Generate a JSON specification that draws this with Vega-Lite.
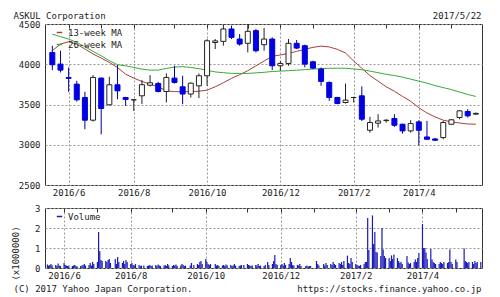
{
"$schema": "https://vega.github.io/schema/vega-lite/v6.json",
"background": "white",
"padding": {"left": 10, "top": 10, "right": 18, "bottom": 5},
"spacing": 5,
"config": {
  "view": {"stroke": "#333333", "strokeWidth": 1},
  "font": "DejaVu Sans Mono",
  "axis": {"labelFont": "DejaVu Sans Mono", "labelFontSize": 9, "labelColor": "#222222", "titleFont": "DejaVu Sans Mono", "titleFontSize": 9, "titleFontWeight": "normal", "titleColor": "#222222", "gridColor": "#999999", "gridDash": [2, 2], "gridOpacity": 1, "tickColor": "#333333", "domain": false},
  "legend": {"labelFont": "DejaVu Sans Mono", "labelFontSize": 9, "labelColor": "#222222"}
},
"datasets": {
  "candles": [
    {"d":"2016-05-23","o":4147,"h":4230,"l":3927,"c":3994,"ma13":4170,"ma26":4375},
    {"d":"2016-05-30","o":4002,"h":4168,"l":3898,"c":3927,"ma13":4250,"ma26":4342},
    {"d":"2016-06-06","o":3835,"h":3960,"l":3658,"c":3825,"ma13":4280,"ma26":4313},
    {"d":"2016-06-13","o":3753,"h":3795,"l":3537,"c":3558,"ma13":4250,"ma26":4272},
    {"d":"2016-06-20","o":3587,"h":3658,"l":3193,"c":3305,"ma13":4190,"ma26":4218},
    {"d":"2016-06-27","o":3305,"h":3865,"l":3288,"c":3836,"ma13":4127,"ma26":4160},
    {"d":"2016-07-04","o":3828,"h":3835,"l":3130,"c":3450,"ma13":4077,"ma26":4106},
    {"d":"2016-07-11","o":3496,"h":3844,"l":3490,"c":3745,"ma13":4023,"ma26":4044},
    {"d":"2016-07-18","o":3745,"h":3990,"l":3566,"c":3670,"ma13":3960,"ma26":3994},
    {"d":"2016-07-25","o":3587,"h":3595,"l":3483,"c":3563,"ma13":3877,"ma26":3981},
    {"d":"2016-08-01","o":3558,"h":3562,"l":3420,"c":3558,"ma13":3828,"ma26":3960},
    {"d":"2016-08-08","o":3608,"h":3803,"l":3505,"c":3746,"ma13":3786,"ma26":3940},
    {"d":"2016-08-15","o":3740,"h":3865,"l":3725,"c":3770,"ma13":3753,"ma26":3927},
    {"d":"2016-08-22","o":3761,"h":3782,"l":3650,"c":3662,"ma13":3720,"ma26":3927},
    {"d":"2016-08-29","o":3662,"h":3886,"l":3525,"c":3836,"ma13":3670,"ma26":3948},
    {"d":"2016-09-05","o":3828,"h":3981,"l":3760,"c":3774,"ma13":3660,"ma26":3965},
    {"d":"2016-09-12","o":3720,"h":3857,"l":3504,"c":3630,"ma13":3660,"ma26":3970},
    {"d":"2016-09-19","o":3630,"h":3775,"l":3587,"c":3765,"ma13":3660,"ma26":3960},
    {"d":"2016-09-26","o":3732,"h":3886,"l":3579,"c":3857,"ma13":3665,"ma26":3945},
    {"d":"2016-10-03","o":3857,"h":4313,"l":3732,"c":4292,"ma13":3678,"ma26":3925},
    {"d":"2016-10-10","o":4270,"h":4313,"l":4189,"c":4290,"ma13":3720,"ma26":3905},
    {"d":"2016-10-17","o":4284,"h":4492,"l":4230,"c":4438,"ma13":3770,"ma26":3895},
    {"d":"2016-10-24","o":4438,"h":4480,"l":4313,"c":4334,"ma13":3825,"ma26":3887},
    {"d":"2016-10-31","o":4313,"h":4375,"l":4230,"c":4251,"ma13":3870,"ma26":3886},
    {"d":"2016-11-07","o":4260,"h":4500,"l":4147,"c":4409,"ma13":3920,"ma26":3886},
    {"d":"2016-11-14","o":4417,"h":4438,"l":4147,"c":4168,"ma13":3980,"ma26":3893},
    {"d":"2016-11-21","o":4243,"h":4450,"l":4168,"c":4313,"ma13":4040,"ma26":3900},
    {"d":"2016-11-28","o":4313,"h":4334,"l":3927,"c":3981,"ma13":4100,"ma26":3910},
    {"d":"2016-12-05","o":3981,"h":4040,"l":3919,"c":4010,"ma13":4115,"ma26":3915},
    {"d":"2016-12-12","o":4010,"h":4313,"l":3981,"c":4260,"ma13":4135,"ma26":3920},
    {"d":"2016-12-19","o":4260,"h":4301,"l":4189,"c":4201,"ma13":4160,"ma26":3926},
    {"d":"2016-12-26","o":4230,"h":4243,"l":3961,"c":4002,"ma13":4185,"ma26":3933},
    {"d":"2017-01-02","o":4031,"h":4044,"l":3940,"c":3952,"ma13":4210,"ma26":3940},
    {"d":"2017-01-09","o":3940,"h":3960,"l":3732,"c":3787,"ma13":4225,"ma26":3946},
    {"d":"2017-01-16","o":3774,"h":3786,"l":3545,"c":3587,"ma13":4215,"ma26":3950},
    {"d":"2017-01-23","o":3587,"h":3595,"l":3504,"c":3512,"ma13":4185,"ma26":3951},
    {"d":"2017-01-30","o":3525,"h":3761,"l":3512,"c":3554,"ma13":4140,"ma26":3950},
    {"d":"2017-02-06","o":3587,"h":3595,"l":3525,"c":3587,"ma13":4040,"ma26":3942},
    {"d":"2017-02-13","o":3608,"h":3724,"l":3296,"c":3317,"ma13":3950,"ma26":3932},
    {"d":"2017-02-20","o":3180,"h":3346,"l":3150,"c":3276,"ma13":3860,"ma26":3915},
    {"d":"2017-02-27","o":3268,"h":3380,"l":3213,"c":3296,"ma13":3790,"ma26":3895},
    {"d":"2017-03-06","o":3300,"h":3317,"l":3276,"c":3305,"ma13":3720,"ma26":3875},
    {"d":"2017-03-13","o":3326,"h":3380,"l":3222,"c":3242,"ma13":3665,"ma26":3860},
    {"d":"2017-03-20","o":3255,"h":3262,"l":3139,"c":3172,"ma13":3600,"ma26":3840},
    {"d":"2017-03-27","o":3172,"h":3305,"l":3150,"c":3263,"ma13":3540,"ma26":3815},
    {"d":"2017-04-03","o":3284,"h":3305,"l":2994,"c":3180,"ma13":3460,"ma26":3790},
    {"d":"2017-04-10","o":3097,"h":3296,"l":3060,"c":3068,"ma13":3395,"ma26":3765},
    {"d":"2017-04-17","o":3072,"h":3085,"l":3048,"c":3056,"ma13":3345,"ma26":3735},
    {"d":"2017-04-24","o":3089,"h":3296,"l":3068,"c":3276,"ma13":3305,"ma26":3710},
    {"d":"2017-05-01","o":3255,"h":3317,"l":3250,"c":3310,"ma13":3285,"ma26":3685},
    {"d":"2017-05-08","o":3338,"h":3430,"l":3317,"c":3421,"ma13":3270,"ma26":3655},
    {"d":"2017-05-15","o":3413,"h":3443,"l":3338,"c":3359,"ma13":3258,"ma26":3625},
    {"d":"2017-05-22","o":3380,"h":3400,"l":3370,"c":3390,"ma13":3255,"ma26":3600}
  ],
  "volume": [
    {"d":"2016-05-23","v":0.18},{"d":"2016-05-24","v":0.12},{"d":"2016-05-25","v":0.15},{"d":"2016-05-26","v":0.2},{"d":"2016-05-27","v":0.12},
    {"d":"2016-05-30","v":0.15},{"d":"2016-05-31","v":0.1},{"d":"2016-06-01","v":0.22},{"d":"2016-06-02","v":0.12},{"d":"2016-06-03","v":0.1},
    {"d":"2016-06-06","v":0.25},{"d":"2016-06-07","v":0.15},{"d":"2016-06-08","v":0.12},{"d":"2016-06-09","v":0.1},{"d":"2016-06-10","v":0.12},
    {"d":"2016-06-13","v":0.1},{"d":"2016-06-14","v":0.12},{"d":"2016-06-15","v":0.15},{"d":"2016-06-16","v":0.1},{"d":"2016-06-17","v":0.08},
    {"d":"2016-06-20","v":0.1},{"d":"2016-06-21","v":0.12},{"d":"2016-06-22","v":0.15},{"d":"2016-06-23","v":0.2},{"d":"2016-06-24","v":0.12},
    {"d":"2016-06-27","v":0.15},{"d":"2016-06-28","v":0.25},{"d":"2016-06-29","v":0.12},{"d":"2016-06-30","v":0.3},{"d":"2016-07-01","v":0.2},
    {"d":"2016-07-04","v":0.3},{"d":"2016-07-05","v":1.8},{"d":"2016-07-06","v":0.85},{"d":"2016-07-07","v":0.4},{"d":"2016-07-08","v":0.35},
    {"d":"2016-07-11","v":0.35},{"d":"2016-07-12","v":0.3},{"d":"2016-07-13","v":0.4},{"d":"2016-07-14","v":0.45},{"d":"2016-07-15","v":0.25},
    {"d":"2016-07-19","v":0.45},{"d":"2016-07-20","v":0.2},{"d":"2016-07-21","v":0.55},{"d":"2016-07-22","v":0.3},
    {"d":"2016-07-25","v":0.25},{"d":"2016-07-26","v":0.35},{"d":"2016-07-27","v":0.2},{"d":"2016-07-28","v":0.4},{"d":"2016-07-29","v":0.3},
    {"d":"2016-08-01","v":0.2},{"d":"2016-08-02","v":0.25},{"d":"2016-08-03","v":0.15},{"d":"2016-08-04","v":0.12},{"d":"2016-08-05","v":0.2},
    {"d":"2016-08-08","v":0.15},{"d":"2016-08-09","v":0.1},{"d":"2016-08-10","v":0.12},{"d":"2016-08-12","v":0.12},
    {"d":"2016-08-15","v":0.1},{"d":"2016-08-16","v":0.12},{"d":"2016-08-17","v":0.15},{"d":"2016-08-18","v":0.1},{"d":"2016-08-19","v":0.12},
    {"d":"2016-08-22","v":0.15},{"d":"2016-08-23","v":0.1},{"d":"2016-08-24","v":0.18},{"d":"2016-08-25","v":0.12},{"d":"2016-08-26","v":0.1},
    {"d":"2016-08-29","v":0.12},{"d":"2016-08-30","v":0.15},{"d":"2016-08-31","v":0.1},{"d":"2016-09-01","v":0.2},{"d":"2016-09-02","v":0.12},
    {"d":"2016-09-05","v":0.1},{"d":"2016-09-06","v":0.15},{"d":"2016-09-07","v":0.12},{"d":"2016-09-08","v":0.18},{"d":"2016-09-09","v":0.1},
    {"d":"2016-09-12","v":0.12},{"d":"2016-09-13","v":0.2},{"d":"2016-09-14","v":0.15},{"d":"2016-09-15","v":0.1},{"d":"2016-09-16","v":0.12},
    {"d":"2016-09-20","v":0.12},{"d":"2016-09-21","v":0.25},{"d":"2016-09-23","v":0.15},
    {"d":"2016-09-26","v":0.2},{"d":"2016-09-27","v":0.15},{"d":"2016-09-28","v":0.3},{"d":"2016-09-29","v":0.35},{"d":"2016-09-30","v":0.2},
    {"d":"2016-10-03","v":0.45},{"d":"2016-10-04","v":0.3},{"d":"2016-10-05","v":0.2},{"d":"2016-10-06","v":0.15},{"d":"2016-10-07","v":0.2},
    {"d":"2016-10-11","v":0.2},{"d":"2016-10-12","v":0.12},{"d":"2016-10-13","v":0.15},{"d":"2016-10-14","v":0.1},
    {"d":"2016-10-17","v":0.12},{"d":"2016-10-18","v":0.15},{"d":"2016-10-19","v":0.1},{"d":"2016-10-20","v":0.18},{"d":"2016-10-21","v":0.12},
    {"d":"2016-10-24","v":0.15},{"d":"2016-10-25","v":0.1},{"d":"2016-10-26","v":0.12},{"d":"2016-10-27","v":0.2},{"d":"2016-10-28","v":0.12},
    {"d":"2016-10-31","v":0.1},{"d":"2016-11-01","v":0.12},{"d":"2016-11-02","v":0.15},{"d":"2016-11-04","v":0.15},
    {"d":"2016-11-07","v":0.2},{"d":"2016-11-08","v":0.15},{"d":"2016-11-09","v":0.12},{"d":"2016-11-10","v":0.1},{"d":"2016-11-11","v":0.12},
    {"d":"2016-11-14","v":0.15},{"d":"2016-11-15","v":0.12},{"d":"2016-11-16","v":0.2},{"d":"2016-11-17","v":0.1},{"d":"2016-11-18","v":0.12},
    {"d":"2016-11-21","v":0.1},{"d":"2016-11-22","v":0.15},{"d":"2016-11-24","v":0.3},{"d":"2016-11-25","v":0.15},
    {"d":"2016-11-28","v":0.2},{"d":"2016-11-29","v":0.35},{"d":"2016-11-30","v":0.65},{"d":"2016-12-01","v":0.2},{"d":"2016-12-02","v":0.15},
    {"d":"2016-12-05","v":0.15},{"d":"2016-12-06","v":0.2},{"d":"2016-12-07","v":0.12},{"d":"2016-12-08","v":0.25},{"d":"2016-12-09","v":0.15},
    {"d":"2016-12-12","v":0.2},{"d":"2016-12-13","v":0.5},{"d":"2016-12-14","v":0.3},{"d":"2016-12-15","v":0.15},{"d":"2016-12-16","v":0.12},
    {"d":"2016-12-19","v":0.15},{"d":"2016-12-20","v":0.12},{"d":"2016-12-21","v":0.2},{"d":"2016-12-22","v":0.1},
    {"d":"2016-12-26","v":0.1},{"d":"2016-12-27","v":0.12},{"d":"2016-12-28","v":0.08},{"d":"2016-12-29","v":0.1},{"d":"2016-12-30","v":0.1},
    {"d":"2017-01-04","v":0.35},{"d":"2017-01-05","v":0.2},{"d":"2017-01-06","v":0.12},
    {"d":"2017-01-10","v":0.2},{"d":"2017-01-11","v":0.12},{"d":"2017-01-12","v":0.25},{"d":"2017-01-13","v":0.15},
    {"d":"2017-01-16","v":0.2},{"d":"2017-01-17","v":0.15},{"d":"2017-01-18","v":0.3},{"d":"2017-01-19","v":0.2},{"d":"2017-01-20","v":0.15},
    {"d":"2017-01-23","v":0.25},{"d":"2017-01-24","v":0.2},{"d":"2017-01-25","v":0.3},{"d":"2017-01-26","v":0.15},{"d":"2017-01-27","v":0.35},
    {"d":"2017-01-30","v":0.62},{"d":"2017-01-31","v":0.25},{"d":"2017-02-01","v":0.2},{"d":"2017-02-02","v":0.5},{"d":"2017-02-03","v":0.3},
    {"d":"2017-02-06","v":0.2},{"d":"2017-02-07","v":0.15},{"d":"2017-02-08","v":0.12},{"d":"2017-02-09","v":0.1},{"d":"2017-02-10","v":0.15},
    {"d":"2017-02-13","v":0.2},{"d":"2017-02-14","v":0.3},{"d":"2017-02-15","v":0.3},{"d":"2017-02-16","v":2.5},{"d":"2017-02-17","v":0.9},
    {"d":"2017-02-20","v":2.63},{"d":"2017-02-21","v":1.2},{"d":"2017-02-22","v":1.8},{"d":"2017-02-23","v":0.8},{"d":"2017-02-24","v":0.77},
    {"d":"2017-02-27","v":0.6},{"d":"2017-02-28","v":2.0},{"d":"2017-03-01","v":0.93},{"d":"2017-03-02","v":0.6},{"d":"2017-03-03","v":0.5},
    {"d":"2017-03-06","v":0.5},{"d":"2017-03-07","v":0.35},{"d":"2017-03-08","v":0.63},{"d":"2017-03-09","v":0.45},{"d":"2017-03-10","v":0.68},
    {"d":"2017-03-13","v":0.5},{"d":"2017-03-14","v":0.35},{"d":"2017-03-15","v":0.25},{"d":"2017-03-16","v":0.3},{"d":"2017-03-17","v":0.2},
    {"d":"2017-03-21","v":0.6},{"d":"2017-03-22","v":0.27},{"d":"2017-03-23","v":0.2},{"d":"2017-03-24","v":0.25},
    {"d":"2017-03-27","v":0.3},{"d":"2017-03-28","v":0.43},{"d":"2017-03-29","v":0.3},{"d":"2017-03-30","v":0.5},{"d":"2017-03-31","v":0.75},
    {"d":"2017-04-03","v":2.2},{"d":"2017-04-04","v":1.0},{"d":"2017-04-05","v":1.0},{"d":"2017-04-06","v":0.77},{"d":"2017-04-07","v":0.45},
    {"d":"2017-04-10","v":0.95},{"d":"2017-04-11","v":0.43},{"d":"2017-04-12","v":0.3},{"d":"2017-04-13","v":0.25},{"d":"2017-04-14","v":0.2},
    {"d":"2017-04-17","v":0.2},{"d":"2017-04-18","v":0.3},{"d":"2017-04-19","v":0.25},{"d":"2017-04-20","v":0.2},{"d":"2017-04-21","v":0.3},
    {"d":"2017-04-24","v":0.25},{"d":"2017-04-25","v":0.3},{"d":"2017-04-26","v":0.93},{"d":"2017-04-27","v":0.3},{"d":"2017-04-28","v":0.2},
    {"d":"2017-05-01","v":0.43},{"d":"2017-05-02","v":0.3},
    {"d":"2017-05-08","v":0.97},{"d":"2017-05-09","v":0.35},{"d":"2017-05-10","v":0.3},{"d":"2017-05-11","v":0.25},{"d":"2017-05-12","v":0.3},
    {"d":"2017-05-15","v":0.3},{"d":"2017-05-16","v":0.2},{"d":"2017-05-17","v":0.35},{"d":"2017-05-18","v":0.25},{"d":"2017-05-19","v":0.3},
    {"d":"2017-05-22","v":0.3}
  ]
},
"resolve": {"scale": {"color": "independent"}, "legend": {"color": "independent"}},
"vconcat": [
  {
    "width": 437,
    "height": 161,
    "data": {"name": "candles"},
    "resolve": {"axis": {"x": "independent"}},
    "layer": [
      {
        "transform": [{"fold": ["ma13", "ma26"], "as": ["k", "val"]}],
        "mark": {"type": "line", "strokeWidth": 1},
        "encoding": {
          "x": {"field": "d", "type": "temporal",
            "scale": {"type": "utc", "domain": [{"year": 2016, "month": 5, "date": 21, "utc": true}, {"year": 2017, "month": 5, "date": 23, "utc": true}]},
            "axis": {"orient": "top", "labels": false, "ticks": false, "grid": false, "domain": false, "title": "2017/5/22", "titleX": 436, "titleY": -9, "titleAlign": "right", "titleBaseline": "middle"}},
          "y": {"field": "val", "type": "quantitative", "title": null,
            "scale": {"domain": [2500, 4500]},
            "axis": {"values": [2500, 3000, 3500, 4000, 4500], "format": "d", "ticks": false, "tickSize": 0, "labelPadding": 5, "grid": true, "domain": false, "title": null}},
          "color": {"field": "k", "type": "nominal",
            "scale": {"domain": ["ma13", "ma26"], "range": ["#a8403a", "#3aa83a"]},
            "legend": {"orient": "none", "legendX": 10, "legendY": 4, "title": null, "symbolType": "stroke", "symbolSize": 30, "symbolStrokeWidth": 1.5, "rowPadding": 2, "padding": 0, "labelExpr": "datum.label == 'ma13' ? '13-week MA' : '26-week MA'"}}
        }
      },
      {
        "mark": {"type": "rule", "strokeWidth": 1},
        "encoding": {
          "x": {"field": "d", "type": "temporal",
            "scale": {"type": "utc", "domain": [{"year": 2016, "month": 5, "date": 21, "utc": true}, {"year": 2017, "month": 5, "date": 23, "utc": true}]},
            "axis": {"orient": "top", "labels": false, "ticks": true, "tickSize": -4, "grid": false, "domain": false,
              "values": [{"year": 2016, "month": 6, "date": 6, "utc": true}, {"year": 2016, "month": 7, "date": 4, "utc": true}, {"year": 2016, "month": 8, "date": 1, "utc": true}, {"year": 2016, "month": 9, "date": 5, "utc": true}, {"year": 2016, "month": 10, "date": 3, "utc": true}, {"year": 2016, "month": 11, "date": 7, "utc": true}, {"year": 2016, "month": 12, "date": 5, "utc": true}, {"year": 2017, "month": 1, "date": 2, "utc": true}, {"year": 2017, "month": 2, "date": 6, "utc": true}, {"year": 2017, "month": 3, "date": 6, "utc": true}, {"year": 2017, "month": 4, "date": 3, "utc": true}, {"year": 2017, "month": 5, "date": 1, "utc": true}],
              "title": "ASKUL Corporation", "titleX": -32, "titleY": -9, "titleAlign": "left", "titleBaseline": "middle"}},
          "y": {"field": "l", "type": "quantitative", "title": null,
            "scale": {"domain": [2500, 4500]},
            "axis": {"values": [2500, 3000, 3500, 4000, 4500], "format": "d", "ticks": false, "tickSize": 0, "labelPadding": 5, "grid": true, "domain": false, "title": null}},
          "y2": {"field": "h"},
          "color": {"condition": {"test": "datum.c >= datum.o", "value": "#222222"}, "value": "#00009a"}
        }
      },
      {
        "mark": {"type": "bar", "width": 5, "strokeWidth": 1},
        "encoding": {
          "x": {"field": "d", "type": "temporal",
            "scale": {"type": "utc", "domain": [{"year": 2016, "month": 5, "date": 21, "utc": true}, {"year": 2017, "month": 5, "date": 23, "utc": true}]},
            "axis": {"orient": "bottom", "format": "%Y/%-m", "labelDx": -4, "labelPadding": 3, "ticks": false, "tickSize": 0, "grid": true, "domain": false, "title": null,
              "values": [{"year": 2016, "month": 6, "date": 6, "utc": true}, {"year": 2016, "month": 8, "date": 1, "utc": true}, {"year": 2016, "month": 10, "date": 3, "utc": true}, {"year": 2016, "month": 12, "date": 5, "utc": true}, {"year": 2017, "month": 2, "date": 6, "utc": true}, {"year": 2017, "month": 4, "date": 3, "utc": true}]}},
          "y": {"field": "o", "type": "quantitative", "title": null,
            "scale": {"domain": [2500, 4500]},
            "axis": {"values": [2500, 3000, 3500, 4000, 4500], "format": "d", "ticks": false, "tickSize": 0, "labelPadding": 5, "grid": true, "domain": false, "title": null}},
          "y2": {"field": "c"},
          "fill": {"condition": {"test": "datum.c >= datum.o", "value": "#ffffff"}, "value": "#0000e0"},
          "stroke": {"condition": {"test": "datum.c >= datum.o", "value": "#222222"}, "value": "#0000e0"}
        }
      }
    ]
  },
  {
    "width": 437,
    "height": 60,
    "data": {"name": "volume"},
    "resolve": {"axis": {"x": "independent"}},
    "layer": [
      {
        "mark": {"type": "rule", "strokeWidth": 1.2},
        "encoding": {
          "x": {"field": "d", "type": "temporal",
            "scale": {"type": "utc", "domain": [{"year": 2016, "month": 5, "date": 21, "utc": true}, {"year": 2017, "month": 5, "date": 23, "utc": true}]},
            "axis": {"orient": "bottom", "format": "%Y/%-m", "labelDx": -4, "labelPadding": 3, "ticks": false, "tickSize": 0, "grid": true, "domain": false,
              "values": [{"year": 2016, "month": 6, "date": 6, "utc": true}, {"year": 2016, "month": 8, "date": 1, "utc": true}, {"year": 2016, "month": 10, "date": 3, "utc": true}, {"year": 2016, "month": 12, "date": 5, "utc": true}, {"year": 2017, "month": 2, "date": 6, "utc": true}, {"year": 2017, "month": 4, "date": 3, "utc": true}],
              "title": "(C) 2017 Yahoo Japan Corporation.", "titleX": -32, "titleY": 20, "titleAlign": "left", "titleBaseline": "middle"}},
          "y": {"field": "v", "type": "quantitative",
            "scale": {"domain": [0, 3]},
            "axis": {"values": [0, 1, 2, 3], "ticks": false, "tickSize": 0, "labelPadding": 5, "grid": true, "domain": false,
              "title": "(x1000000)", "titleX": -30, "titleY": 45, "titleAngle": 270, "titleAlign": "center", "titleBaseline": "middle"}},
          "y2": {"datum": 0},
          "color": {"datum": "Volume", "scale": {"range": ["#1a1ab8"]},
            "legend": {"orient": "none", "legendX": 10, "legendY": 4, "title": null, "symbolType": "stroke", "symbolSize": 30, "symbolStrokeWidth": 1.5, "padding": 0}}
        }
      },
      {
        "mark": {"type": "rule", "opacity": 0},
        "encoding": {
          "x": {"field": "d", "type": "temporal",
            "scale": {"type": "utc", "domain": [{"year": 2016, "month": 5, "date": 21, "utc": true}, {"year": 2017, "month": 5, "date": 23, "utc": true}]},
            "axis": {"orient": "top", "labels": false, "ticks": true, "tickSize": -4, "grid": false, "domain": false,
              "values": [{"year": 2016, "month": 6, "date": 6, "utc": true}, {"year": 2016, "month": 7, "date": 4, "utc": true}, {"year": 2016, "month": 8, "date": 1, "utc": true}, {"year": 2016, "month": 9, "date": 5, "utc": true}, {"year": 2016, "month": 10, "date": 3, "utc": true}, {"year": 2016, "month": 11, "date": 7, "utc": true}, {"year": 2016, "month": 12, "date": 5, "utc": true}, {"year": 2017, "month": 1, "date": 2, "utc": true}, {"year": 2017, "month": 2, "date": 6, "utc": true}, {"year": 2017, "month": 3, "date": 6, "utc": true}, {"year": 2017, "month": 4, "date": 3, "utc": true}, {"year": 2017, "month": 5, "date": 1, "utc": true}],
              "title": "https://stocks.finance.yahoo.co.jp", "titleX": 436, "titleY": 80, "titleAlign": "right", "titleBaseline": "middle"}},
          "y": {"field": "v", "type": "quantitative",
            "scale": {"domain": [0, 3]},
            "axis": {"values": [0, 1, 2, 3], "ticks": false, "tickSize": 0, "labelPadding": 5, "grid": true, "domain": false,
              "title": "(x1000000)", "titleX": -30, "titleY": 45, "titleAngle": 270, "titleAlign": "center", "titleBaseline": "middle"}},
          "y2": {"datum": 0}
        }
      }
    ]
  }
]
}
